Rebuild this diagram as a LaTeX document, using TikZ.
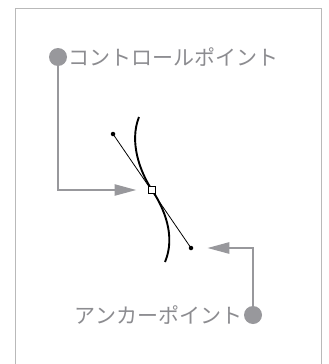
\documentclass[tikz,border=0pt]{standalone}
\usepackage{fontspec}
\newfontfamily\jpfont{Noto Sans CJK JP}
\usetikzlibrary{arrows.meta,positioning}
\definecolor{guidegray}{RGB}{152,152,156}
\definecolor{labelgray}{RGB}{140,140,144}

\begin{document}
\begin{tikzpicture}
    [x=1pt,y=-1pt,
    every node/.style={inner sep=0pt,outer sep=0pt},
    bigdot/.style= {circle,fill=guidegray,minimum size=18pt},
    smalldot/.style={circle,fill=black,minimum size=4.5pt},
    anchorbox/.style={rectangle,draw=black,line width=0.8pt,fill=white,minimum size=7pt},
    callout/.style= {font=\jpfont\fontsize{21}{24}\selectfont,text=labelgray},
    pointer/.style= {draw=guidegray,line width=2.5pt,-{Triangle[length=22pt,width=11pt]}}]
    % 枠と画像の範囲
    \useasboundingbox (0,0) rectangle (329,364);
    \clip (0,0) rectangle (329,364);
    \draw [gray!55,line width=1pt] (15,8) rectangle (321,380);
    % 曲線とハンドル
    \coordinate (ctop) at (139,117);
    \coordinate (cbot) at (165,262);
    \node [smalldot] (h1) at (113,134) {};
    \node [smalldot] (h2) at (191,248) {};
    \draw [line width=0.8pt] (h1.center) -- (h2.center);
    \draw [line width=1.9pt] (ctop) .. controls (129,142) and (140,172) .. (152,190)
        .. controls (164,208) and (176,236) .. (cbot);
    \node [anchorbox] (apt) at (152,190) {};
    % 説明ラベル
    \node [bigdot] (ctrldot) at (58,57) {};
    \node [callout,anchor=west] (ctrllabel) at ([xshift=1pt]ctrldot.east) {コントロールポイント};
    \node [bigdot] (anchdot) at (253,315) {};
    \node [callout,anchor=east] (anchlabel) at ([xshift=-2pt]anchdot.west) {アンカーポイント};
    % 矢印
    \draw [pointer,shorten >=12pt] (ctrldot.center) |- (apt.west);
    \draw [pointer,shorten >=14pt] (anchdot.center) |- (h2.east);
\end{tikzpicture}
\end{document}
